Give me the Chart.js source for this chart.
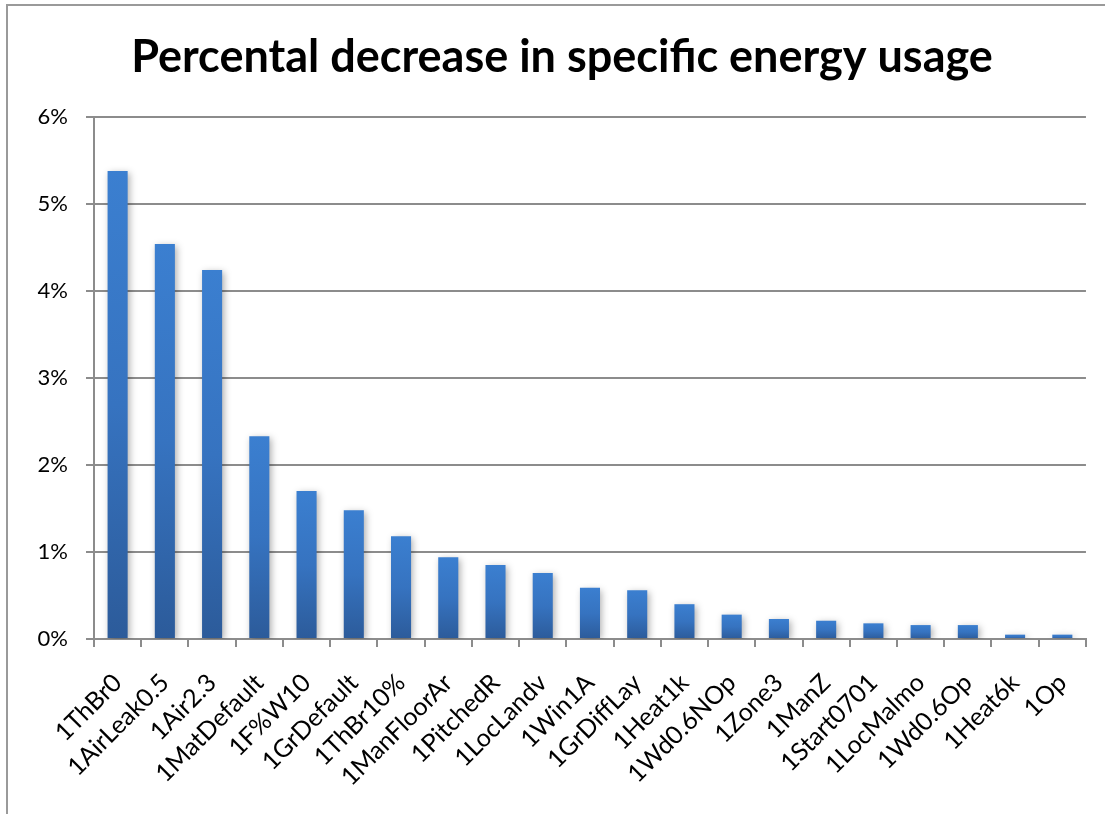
<!DOCTYPE html>
<html>
<head>
  <title>Percental decrease in specific energy usage</title>
  <script src="https://cdn.jsdelivr.net/npm/chart.js"></script>
  <style>
    body { margin: 0; background: #fff; }
    #wrap { position: relative; width: 1105px; height: 814px; overflow: hidden; }
    #frame { position: absolute; left: 6px; top: 4px; width: 1200px; height: 900px;
             border-top: 2px solid #9a9a9a; border-left: 2px solid #9a9a9a; }
    #myChart { position: absolute; left: 0; top: 0; }
  </style>
</head>
<body>
  <div id="wrap">
    <div id="frame"></div>
    <canvas id="myChart" width="1105" height="814"></canvas>
  </div>
  <script>
// data (percent)
const categories = ['1ThBr0', '1AirLeak0.5', '1Air2.3', '1MatDefault', '1F%W10', '1GrDefault',
  '1ThBr10%', '1ManFloorAr', '1PitchedR', '1LocLandv', '1Win1A', '1GrDiffLay', '1Heat1k',
  '1Wd0.6NOp', '1Zone3', '1ManZ', '1Start0701', '1LocMalmo', '1Wd0.6Op', '1Heat6k', '1Op'];
const decrease = [5.38, 4.54, 4.24, 2.33, 1.70, 1.48, 1.18, 0.94, 0.85, 0.76, 0.59, 0.56, 0.40,
  0.28, 0.23, 0.21, 0.18, 0.16, 0.16, 0.05, 0.05];
const yTicks = [0, 1, 2, 3, 4, 5, 6];
const chartTitle = 'Percental decrease in specific energy usage';

const gridGray = '#8c8c8c';
const fontFam = 'Lato, "Open Sans", sans-serif';

// each bar gets its own top-to-bottom gradient
function barFill(ctx) {
  const chart = ctx.chart;
  const y = chart.scales.y;
  if (!y || ctx.raw === undefined) return '#3a7cce';
  const top = y.getPixelForValue(ctx.raw);
  const base = y.getPixelForValue(0);
  if (!isFinite(top) || !isFinite(base) || top === base) return '#3a7cce';
  const g = chart.ctx.createLinearGradient(0, top, 0, base);
  g.addColorStop(0, '#3b7fd0');
  g.addColorStop(0.5, '#3673c0');
  g.addColorStop(1, '#2c5b9a');
  return g;
}

const barShadow = {
  id: 'barShadow',
  beforeDatasetDraw(chart) {
    const c = chart.ctx;
    c.save();
    c.shadowColor = 'rgba(0,0,0,0.32)';
    c.shadowBlur = 7;
    c.shadowOffsetX = 2;
    c.shadowOffsetY = 2;
  },
  afterDatasetDraw(chart) {
    chart.ctx.restore();
  }
};

// title drawn by hand so it can sit where the original one sits
const titleText = {
  id: 'titleText',
  afterDraw(chart) {
    const c = chart.ctx;
    c.save();
    c.fillStyle = '#000';
    c.font = 'bold 45px ' + fontFam;
    c.textAlign = 'center';
    c.textBaseline = 'alphabetic';
    c.fillText(chartTitle, 562, 72);
    c.restore();
  }
};

const ctx = document.getElementById('myChart').getContext('2d');
new Chart(ctx, {
  type: 'bar',
  data: {
    labels: categories,
    datasets: [{
      data: decrease,
      backgroundColor: barFill,
      borderWidth: 0,
      barPercentage: 0.85,
      categoryPercentage: 0.5
    }]
  },
  options: {
    responsive: false,
    animation: false,
    layout: { padding: { left: 0, right: 19, top: 117, bottom: 0 } },
    plugins: {
      legend: { display: false },
      tooltip: { enabled: false },
      title: { display: false }
    },
    scales: {
      x: {
        offset: true,
        grid: {
          offset: true,
          drawOnChartArea: false,
          drawTicks: true,
          tickLength: 8,
          color: gridGray,
          lineWidth: 2
        },
        border: { display: true, color: gridGray, width: 2 },
        ticks: {
          color: '#000',
          font: { family: fontFam, size: 25 },
          minRotation: 45,
          maxRotation: 45,
          autoSkip: false,
          padding: 21
        },
        afterFit(scale) { scale.height = 175; }
      },
      y: {
        min: 0,
        max: 6,
        afterBuildTicks(scale) { scale.ticks = yTicks.map(v => ({ value: v })); },
        grid: {
          color: gridGray,
          lineWidth: 2,
          tickLength: 8
        },
        border: { display: true, color: gridGray, width: 2 },
        ticks: {
          color: '#000',
          font: { family: fontFam, size: 22 },
          padding: 18,
          callback: v => v + '%'
        },
        afterFit(scale) { scale.width = 94; }
      }
    }
  },
  plugins: [barShadow, titleText]
});
  </script>
</body>
</html>
